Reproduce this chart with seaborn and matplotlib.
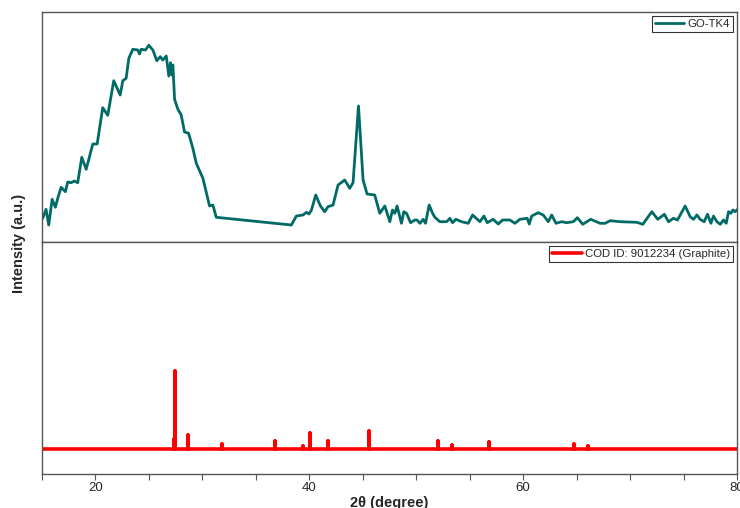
import numpy as np
import pandas as pd
import matplotlib
matplotlib.use("Agg")
import matplotlib.pyplot as plt
import seaborn as sns
from matplotlib.ticker import MultipleLocator

sns.set_theme(style="white")
plt.rcParams['font.family'] = ['Liberation Sans', 'DejaVu Sans']

# ---- GO-TK4 measured pattern (2theta, intensity a.u.) ----
go_2theta = [15.07, 15.38, 15.63, 15.95, 16.25, 16.47, 16.79, 17.19, 17.41, 17.72,
             18.03, 18.34, 18.72, 19.13, 19.75, 20.16, 20.68, 21.15, 21.71, 22.31,
             22.56, 22.87, 23.12, 23.49, 23.96, 24.12, 24.28, 24.68, 24.99, 25.37,
             25.74, 26.06, 26.30, 26.62, 26.86, 27.02, 27.14, 27.24, 27.40, 27.71,
             28.02, 28.33, 28.71, 29.11, 29.43, 30.05, 30.67, 30.98, 31.30,
             38.32, 38.79, 39.41, 39.73, 39.97, 40.20, 40.60, 41.04, 41.44, 41.75,
             42.22, 42.69, 43.31, 43.78, 44.09, 44.60, 45.03, 45.40, 46.12, 46.59,
             47.06, 47.53, 47.78, 48.00, 48.21, 48.62, 48.84, 49.09, 49.47, 49.87,
             50.08, 50.34, 50.65, 50.87, 51.21, 51.53, 51.74, 52.21, 52.84, 53.15,
             53.40, 53.71, 54.24, 54.86, 55.27, 55.96, 56.33, 56.64, 57.20, 57.67,
             58.08, 58.76, 59.23, 59.70, 60.38, 60.57, 60.80, 61.41, 61.88, 62.35,
             62.67, 63.07, 63.60, 64.07, 64.69, 65.07, 65.57, 66.32, 67.19, 67.66,
             68.13, 69.06, 70.63, 71.19, 72.03, 72.59, 73.21, 73.59, 74.06, 74.43,
             75.15, 75.62, 75.93, 76.25, 76.55, 76.93, 77.24, 77.56, 77.80, 78.12,
             78.43, 78.74, 78.99, 79.21, 79.43, 79.62, 79.83, 80.15]
go_intensity = [23.7, 32.7, 17.0, 42.7, 34.7, 43.7, 54.7, 50.3, 60.0, 59.3,
                61.0, 59.3, 84.7, 72.7, 98.0, 98.0, 134.3, 126.7, 161.3, 147.0,
                161.3, 163.7, 183.7, 192.7, 192.0, 188.0, 192.7, 192.0, 196.7, 192.0,
                181.3, 185.3, 182.0, 186.0, 166.0, 179.3, 167.0, 177.0, 142.7, 132.7,
                127.0, 110.0, 108.7, 93.7, 78.7, 63.7, 36.0, 37.0, 24.7,
                17.0, 26.0, 27.0, 29.7, 28.0, 32.0, 47.0, 36.0, 30.3, 35.3,
                37.0, 57.0, 62.0, 53.7, 59.3, 136.0, 62.0, 48.0, 47.0, 28.7,
                36.0, 20.3, 32.0, 28.7, 36.0, 18.7, 30.3, 28.7, 19.3, 22.0,
                22.0, 18.7, 22.7, 18.7, 37.0, 28.7, 24.7, 20.3, 20.3, 23.7,
                19.3, 22.7, 20.3, 18.7, 27.0, 20.3, 26.0, 19.3, 22.7, 18.0,
                22.0, 22.0, 18.7, 22.7, 23.7, 18.0, 26.0, 29.3, 27.0, 20.3,
                27.0, 18.7, 20.3, 19.3, 20.3, 24.3, 17.7, 22.7, 18.7, 18.7,
                21.3, 20.3, 19.7, 17.7, 30.3, 22.7, 27.7, 20.3, 23.7, 22.0,
                36.0, 25.3, 22.7, 27.0, 22.7, 20.3, 27.7, 18.7, 26.0, 20.3,
                17.7, 22.0, 18.7, 30.3, 28.7, 32.0, 30.3, 33.7]

# ---- Reference pattern COD 9012234 (Graphite): stick peaks ----
ref_2theta = [27.33, 27.46, 28.64, 31.86, 36.83, 39.41, 40.10, 41.72, 45.59,
              52.05, 53.36, 56.83, 64.79, 66.10]
ref_height = [10.0, 78.0, 13.7, 5.0, 7.7, 3.3, 15.7, 7.7, 18.3,
              7.7, 3.7, 7.0, 4.7, 3.3]

x_range = (15, 80)

# Build a stick-pattern path from the peak lists
rx, ry = [x_range[0]], [0.0]
for p, h in zip(ref_2theta, ref_height):
    rx += [p, p, p]
    ry += [0.0, h, 0.0]
rx.append(x_range[1]); ry.append(0.0)
ref_df = pd.DataFrame({"2theta": rx, "I": ry})
go_df = pd.DataFrame({"2theta": go_2theta, "I": go_intensity})

fig = plt.figure(figsize=(7.40, 5.08), dpi=100)
L, R = 42 / 740, 737 / 740
y_top, y_mid, y_bot = 1 - 12 / 508, 1 - 242 / 508, 1 - 474 / 508
ax1 = fig.add_axes([L, y_mid, R - L, y_top - y_mid])
ax2 = fig.add_axes([L, y_bot, R - L, y_mid - y_bot], sharex=ax1)

teal = "#006b66"
red = "#ff0000"
sns.lineplot(data=go_df, x="2theta", y="I", ax=ax1, color=teal, lw=2.0,
             sort=False, estimator=None, label="GO-TK4")
sns.lineplot(data=ref_df, x="2theta", y="I", ax=ax2, color=red, lw=2.6,
             sort=False, estimator=None, label="COD ID: 9012234 (Graphite)")

ax1.set_xlim(*x_range)
ax1.set_ylim(0, 230)
ax2.set_ylim(-25, 207)

spine_col = "#555555"
for ax in (ax1, ax2):
    for s in ax.spines.values():
        s.set_color(spine_col)
        s.set_linewidth(1.0)
    ax.set_yticks([])
    ax.set_ylabel("")
    ax.set_xlabel("")
    leg = ax.legend(loc="upper right", fontsize=8.2, frameon=True, fancybox=False,
                    handlelength=2.6, borderpad=0.25, handletextpad=0.3,
                    borderaxespad=0.35)
    leg.get_frame().set_edgecolor("black")
    leg.get_frame().set_linewidth(0.8)

ax1.tick_params(axis="x", which="both", bottom=False, labelbottom=False)
ax2.xaxis.set_major_locator(MultipleLocator(20))
ax2.xaxis.set_minor_locator(MultipleLocator(5))
ax2.tick_params(axis="x", which="both", bottom=True, direction="out",
                length=4, width=0.8, color=spine_col, labelsize=9.5, pad=2)
ax2.tick_params(axis="x", which="minor", length=4)

fig.text(0.026, (y_top + y_bot) / 2, "Intensity (a.u.)", rotation=90,
         ha="center", va="center", fontsize=10.5, fontweight="bold")
fig.text((L + R) / 2, 1 - 503 / 508, "2θ (degree)", ha="center", va="center",
         fontsize=10.5, fontweight="bold")

fig.savefig("out.png", dpi=100)
